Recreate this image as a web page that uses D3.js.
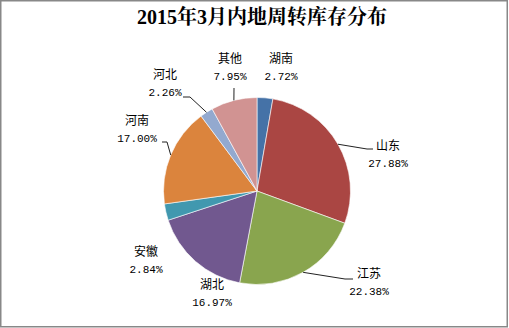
<!DOCTYPE html>
<html><head><meta charset="utf-8">
<script src="https://cdn.jsdelivr.net/npm/d3@7/dist/d3.min.js"></script>
<style>body{margin:0;background:#fff}svg{display:block}</style>
</head><body>
<svg id="c" width="509" height="328"></svg>
<script>
const title = "2015年3月内地周转库存分布";
const categories = ["湖南","山东","江苏","湖北","安徽","河南","河北","其他"];
const values = [2.72, 27.88, 22.38, 16.97, 2.84, 17.00, 2.26, 7.95];
const valueLabels = ["2.72%","27.88%","22.38%","16.97%","2.84%","17.00%","2.26%","7.95%"];
const colors = ["#4572A7","#AA4643","#89A54E","#71588F","#4198AF","#DB843D","#93A9CF","#D19392"];

// label layout (center of two-line label) and optional leader elbow/end points
const labelPos = [[281,67],[388,154],[369,282],[212,293],[146,260],[137,129],[165,83],[230,67]];
const leaders = [null, [[367,149],[373,149]], [[345,279],[353,279]], null, null, [[167,142],[162,142]], [[190,97],[183,97]], [[234,88]]];

const W = 509, H = 328, cx = 257, cy = 191, R = 93.5;
const svg = d3.select("#c");
svg.append("rect").attr("x",0.75).attr("y",0.75).attr("width",506.5).attr("height",326)
  .attr("fill","#fff").attr("stroke","#888").attr("stroke-width",1.5);

svg.append("text").attr("x",262).attr("y",24).attr("text-anchor","middle")
  .style("font-family","'Liberation Serif','Noto Serif CJK SC','Noto Sans CJK SC',serif")
  .style("font-size","20px").style("font-weight","bold").attr("fill","#000").text(title);

const pie = d3.pie().sort(null).value(d=>d)(values);
const arc = d3.arc().innerRadius(0).outerRadius(R);
const g = svg.append("g").attr("transform",`translate(${cx},${cy})`);
g.selectAll("path").data(pie).join("path").attr("d",arc)
  .attr("fill",(d,i)=>colors[i]).attr("stroke","#fff").attr("stroke-width",0.6);

// leader lines
pie.forEach((d,i)=>{
  if(!leaders[i]) return;
  const a = (d.startAngle+d.endAngle)/2;
  const pts = [[cx+Math.sin(a)*R, cy-Math.cos(a)*R], ...leaders[i]];
  svg.append("path").attr("d", d3.line()(pts)).attr("fill","none")
    .attr("stroke","#222").attr("stroke-width",1);
});

const lab = svg.append("g");
categories.forEach((c,i)=>{
  const [x,y] = labelPos[i];
  lab.append("text").attr("x",x).attr("y",y-4).attr("text-anchor","middle")
    .style("font-family","'Noto Sans CJK SC',sans-serif").style("font-size","12px").attr("fill","#000").text(c);
  lab.append("text").attr("x",x).attr("y",y+13).attr("text-anchor","middle")
    .style("font-family","'Liberation Mono','DejaVu Sans Mono',monospace").style("font-size","11px").attr("fill","#000").text(valueLabels[i]);
});
</script>
</body></html>
